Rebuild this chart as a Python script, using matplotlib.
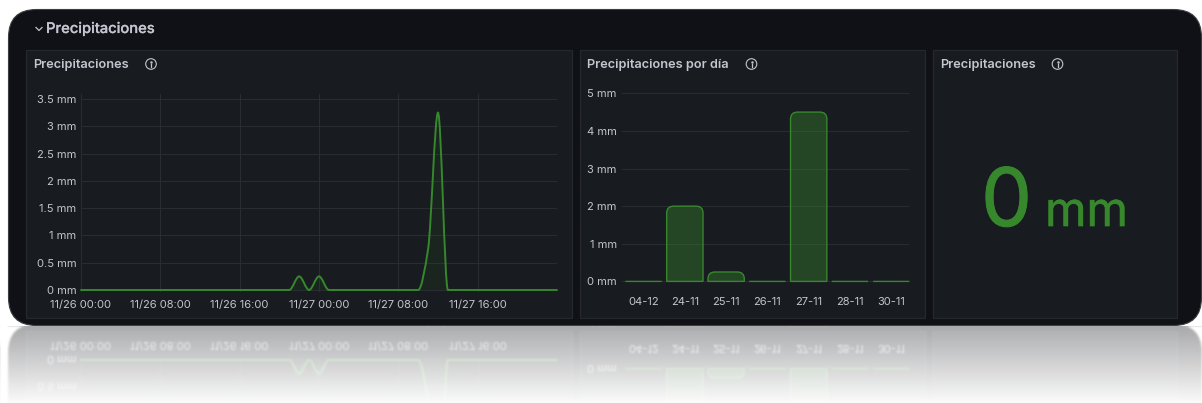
import matplotlib
matplotlib.use("Agg")
import matplotlib.pyplot as plt
import matplotlib.patheffects as pe
import numpy as np
from matplotlib.patches import Circle, FancyBboxPatch, PathPatch, Rectangle
from matplotlib.path import Path
from matplotlib.transforms import IdentityTransform

plt.rcParams["font.family"] = ["Inter", "DejaVu Sans"]

W, H = 1202, 403

CANVAS = "#101116"
PANEL = "#181b1f"
PANEL_EDGE = "#25282c"
GRID = "#292c30"
TEXT = "#c4c5cf"
TITLE = "#c4c5cf"
GREEN = "#37872d"

# hourly rain, hours counted from 11/26 00:00
hours = [0, 21, 22, 23, 24, 25, 34, 35, 36, 37, 48]
rain_mm = [0, 0, 0.25, 0, 0.25, 0, 0, 0.75, 3.25, 0, 0]
hour_ticks = [0, 8, 16, 24, 32, 40]
hour_labels = ["11/26 00:00", "11/26 08:00", "11/26 16:00", "11/27 00:00", "11/27 08:00", "11/27 16:00"]
rain_ticks = [0, 0.5, 1, 1.5, 2, 2.5, 3, 3.5]
rain_labels = ["0 mm", "0.5 mm", "1 mm", "1.5 mm", "2 mm", "2.5 mm", "3 mm", "3.5 mm"]

days = ["04-12", "24-11", "25-11", "26-11", "27-11", "28-11", "30-11"]
day_mm = [0, 2, 0.25, 0, 4.5, 0, 0]
day_ticks = [0, 1, 2, 3, 4, 5]
day_labels = ["0 mm", "1 mm", "2 mm", "3 mm", "4 mm", "5 mm"]


def px_axes(fig, x0, y0, x1, y1):
    return fig.add_axes([x0 / W, 1 - y1 / H, (x1 - x0) / W, (y1 - y0) / H])


def monotone_path(x, y):
    # same kind of smoothing the dashboard uses: flat tangents at local extremes
    x = np.asarray(x, float)
    y = np.asarray(y, float)
    dx = np.diff(x)
    slope = np.diff(y) / dx
    tan = np.zeros(len(x))
    for i in range(1, len(x) - 1):
        if slope[i - 1] * slope[i] > 0:
            w1 = 2 * dx[i] + dx[i - 1]
            w2 = dx[i] + 2 * dx[i - 1]
            tan[i] = (w1 + w2) / (w1 / slope[i - 1] + w2 / slope[i])
    verts = [(x[0], y[0])]
    codes = [Path.MOVETO]
    for i in range(len(dx)):
        verts += [
            (x[i] + dx[i] / 3, y[i] + tan[i] * dx[i] / 3),
            (x[i + 1] - dx[i] / 3, y[i + 1] - tan[i + 1] * dx[i] / 3),
            (x[i + 1], y[i + 1]),
        ]
        codes += [Path.CURVE4] * 3
    return verts, codes


def style_axes(ax):
    ax.patch.set_alpha(0)
    for s in ax.spines.values():
        s.set_visible(False)
    ax.tick_params(length=0, labelcolor=TEXT, labelsize=8.0)
    ax.set_axisbelow(True)


def info_icon(bg, x, y):
    bg.add_patch(Circle((x, y), 5.3, fill=False, ec=TEXT, lw=0.8))
    bg.plot([x, x], [y - 0.2, y + 2.6], color=TEXT, lw=0.9)
    bg.plot([x], [y - 2.3], ".", color=TEXT, ms=1.6)


def rounded_bar(ax, x, width, height, r_px=7):
    # rounded top corners are easier in pixels, so go through transData
    (x0, y0), (x1, y1) = ax.transData.transform([(x - width / 2, 0), (x + width / 2, height)])
    r = min(r_px, y1 - y0)
    verts = [
        (x0, y0), (x0, y1 - r), (x0, y1), (x0 + r, y1), (x1 - r, y1), (x1, y1), (x1, y1 - r), (x1, y0), (x0, y0),
    ]
    codes = [
        Path.MOVETO, Path.LINETO, Path.CURVE3, Path.CURVE3, Path.LINETO, Path.CURVE3, Path.CURVE3, Path.LINETO,
        Path.CLOSEPOLY,
    ]
    ax.add_patch(PathPatch(Path(verts, codes), transform=IdentityTransform(), fc=GREEN + "66", ec=GREEN, lw=1.0,
                           clip_on=False))


fig = plt.figure(figsize=(W / 100, H / 100), dpi=100, facecolor="white")

# page furniture in pixel coordinates
bg = fig.add_axes([0, 0, 1, 1])
bg.set_xlim(0, W)
bg.set_ylim(H, 0)
bg.axis("off")
bg.add_patch(FancyBboxPatch((8.5, 9.5), W - 9, 316, boxstyle="round,pad=0,rounding_size=28", fc=CANVAS, ec="#3c3e42",
                            lw=0.8, clip_on=False))
for x0, x1 in [(26, 572), (579.5, 924.5), (932.5, 1177)]:
    bg.add_patch(Rectangle((x0, 49.5), x1 - x0, 268, fc=PANEL, ec=PANEL_EDGE, lw=0.9))

bg.plot([36, 39, 42], [27.5, 30.5, 27.5], color=TEXT, lw=0.9)
bg.text(46, 29, "Precipitaciones", color=TITLE, fontsize=10.6, fontweight="medium", va="center",
        path_effects=[pe.withStroke(linewidth=0.15, foreground=TITLE)])
for tx, title in [(33.5, "Precipitaciones"), (587, "Precipitaciones por día"), (940.5, "Precipitaciones")]:
    bg.text(tx, 65, title, color=TITLE, fontsize=9.2, fontweight="semibold", va="center")
info_icon(bg, 151, 64)
info_icon(bg, 751.5, 64)
info_icon(bg, 1057.5, 64)

# stat panel
bg.text(1006.5, 226, "0", color=GREEN, fontsize=58, ha="center", va="baseline",
        path_effects=[pe.withStroke(linewidth=0.8, foreground=GREEN)])
bg.text(1086.5, 226, "mm", color=GREEN, fontsize=34, ha="center", va="baseline",
        path_effects=[pe.withStroke(linewidth=0.5, foreground=GREEN)])

# time series
ax = px_axes(fig, 81, 94, 557, 292)
style_axes(ax)
ax.set_xlim(0, 48)
px_per_mm = (290 - 99) / 3.5
ax.set_ylim(-2 / px_per_mm, 3.5 + 5 / px_per_mm)
ax.set_xticks(hour_ticks, hour_labels)
ax.set_yticks(rain_ticks, rain_labels)
ax.tick_params(axis="x", pad=6)
ax.tick_params(axis="y", pad=3.5)
ax.grid(True, color=GRID, lw=0.8)
verts, codes = monotone_path(hours, rain_mm)
ax.add_patch(PathPatch(Path(verts + [(hours[-1], 0), (hours[0], 0), verts[0]],
                            codes + [Path.LINETO, Path.LINETO, Path.CLOSEPOLY]),
                       fc=GREEN + "18", ec="none"))
ax.add_patch(PathPatch(Path(verts, codes), fc="none", ec=GREEN, lw=1.4, clip_on=False, capstyle="round"))

# bars per day
ax2 = px_axes(fig, 621.7, 90, 909, 283)
style_axes(ax2)
ax2.set_xlim(-0.53, 6.43)
px_per_mm2 = (281.4 - 93.3) / 5
ax2.set_ylim(-1.6 / px_per_mm2, 5 + 3.3 / px_per_mm2)
ax2.set_xticks(range(len(days)), days)
ax2.set_yticks(day_ticks, day_labels)
ax2.tick_params(axis="x", pad=10)
ax2.tick_params(axis="y", pad=3.5)
ax2.grid(True, axis="y", color=GRID, lw=0.8)
fig.canvas.draw()
for i, v in enumerate(day_mm):
    rounded_bar(ax2, i, 0.88, v)

# mirror image under the card, fading to white
fig.canvas.draw()
rgba = np.asarray(fig.canvas.buffer_rgba())[:, :, :3].astype(float)
top = 326
rows = H - top
flipped = rgba[top - rows - 2:top - 2][::-1]
blur = flipped.copy()
for _ in range(2):
    blur = (blur + np.roll(blur, 1, 0) + np.roll(blur, -1, 0) + np.roll(blur, 1, 1) + np.roll(blur, -1, 1)) / 5
fade = np.linspace(0.36, 0.02, rows)[:, None, None]
reflection = blur * fade + 255 * (1 - fade)
fig.figimage(reflection.astype(np.uint8), xo=0, yo=0, origin="upper", zorder=10)

fig.savefig("out.png", dpi=100, facecolor="white")
